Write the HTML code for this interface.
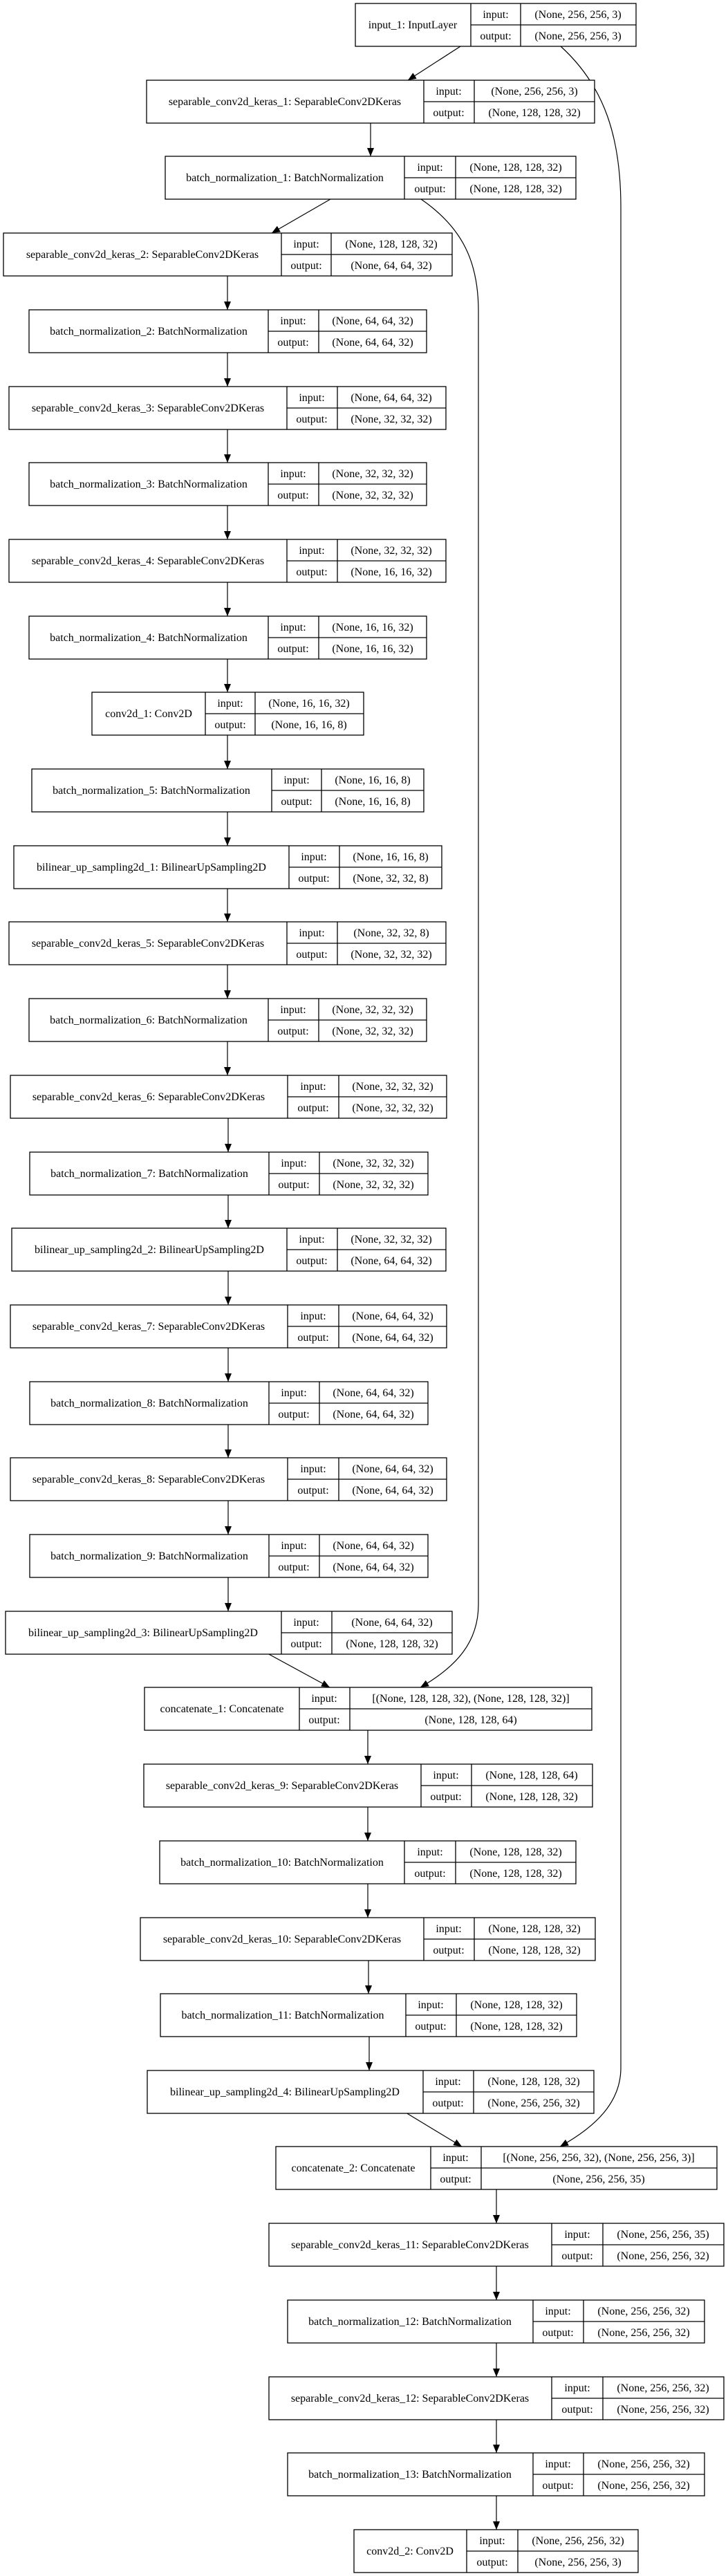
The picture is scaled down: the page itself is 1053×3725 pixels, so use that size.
<!DOCTYPE html>
<html><head><meta charset="utf-8"><style>
html,body{margin:0;padding:0;background:#fff;}
svg{display:block;}
text{font-family:"Liberation Serif",serif;font-size:16px;fill:#000;text-anchor:middle;}
.b rect{fill:#fff;stroke:#000;stroke-width:1.3;}
.b path{fill:none;stroke:#000;stroke-width:1.3;}
.e{fill:none;stroke:#000;stroke-width:1.2;}
</style></head><body>
<svg width="1053" height="3725" viewBox="0 0 1053 3725" xmlns="http://www.w3.org/2000/svg">
<defs><marker id="a" markerWidth="12" markerHeight="10" refX="12" refY="5" orient="auto" markerUnits="userSpaceOnUse"><path d="M0 0 L12 5 L0 10 z" fill="#000"/></marker></defs>
<rect width="1053" height="3725" fill="#fff"/>

<!-- edges -->
<path class="e" marker-end="url(#a)" d="M666 67 L590 116"/>
<path class="e" marker-end="url(#a)" d="M536 178 L536 226"/>
<path class="e" marker-end="url(#a)" d="M478 288 L393 337"/>
<path class="e" marker-end="url(#a)" d="M329 399 L329 448"/>
<path class="e" marker-end="url(#a)" d="M329 510 L329 559"/>
<path class="e" marker-end="url(#a)" d="M329 621 L329 669"/>
<path class="e" marker-end="url(#a)" d="M329 731 L329 780"/>
<path class="e" marker-end="url(#a)" d="M329 842 L329 891"/>
<path class="e" marker-end="url(#a)" d="M329 953 L329 1001"/>
<path class="e" marker-end="url(#a)" d="M329 1063 L329 1112"/>
<path class="e" marker-end="url(#a)" d="M329 1174 L329 1223"/>
<path class="e" marker-end="url(#a)" d="M329 1285 L329 1333"/>
<path class="e" marker-end="url(#a)" d="M329 1395 L329 1444"/>
<path class="e" marker-end="url(#a)" d="M329 1506 L329 1555"/>
<path class="e" marker-end="url(#a)" d="M330 1617 L330 1666"/>
<path class="e" marker-end="url(#a)" d="M330 1728 L330 1776"/>
<path class="e" marker-end="url(#a)" d="M330 1838 L330 1887"/>
<path class="e" marker-end="url(#a)" d="M330 1949 L330 1998"/>
<path class="e" marker-end="url(#a)" d="M330 2060 L330 2108"/>
<path class="e" marker-end="url(#a)" d="M330 2170 L330 2219"/>
<path class="e" marker-end="url(#a)" d="M330 2281 L330 2330"/>
<path class="e" marker-end="url(#a)" d="M387 2391 L477 2440"/>
<path class="e" marker-end="url(#a)" d="M532 2502 L532 2551"/>
<path class="e" marker-end="url(#a)" d="M532 2613 L532 2662"/>
<path class="e" marker-end="url(#a)" d="M532 2724 L532 2773"/>
<path class="e" marker-end="url(#a)" d="M533 2835 L533 2883"/>
<path class="e" marker-end="url(#a)" d="M534 2945 L534 2994"/>
<path class="e" marker-end="url(#a)" d="M587 3055 L668 3104"/>
<path class="e" marker-end="url(#a)" d="M718 3166 L718 3215"/>
<path class="e" marker-end="url(#a)" d="M718 3277 L718 3326"/>
<path class="e" marker-end="url(#a)" d="M718 3388 L718 3437"/>
<path class="e" marker-end="url(#a)" d="M718 3499 L718 3547"/>
<path class="e" marker-end="url(#a)" d="M718 3609 L718 3658"/>
<path class="e" marker-end="url(#a)" d="M609 288 C670 330 692 380 692 450 L692 2320 C692 2375 660 2410 608 2440"/>
<path class="e" marker-end="url(#a)" d="M811 67 C875 125 898 200 898 300 L898 2990 C898 3040 862 3075 810 3104"/>

<!-- nodes -->
<g class="b"><rect x="514" y="5" width="406" height="62"/><path d="M681 5V67M753 5V67M681 36H920"/>
<text x="597" y="41">input_1: InputLayer</text><text x="717" y="26">input:</text><text x="717" y="57">output:</text><text x="836" y="26">(None, 256, 256, 3)</text><text x="836" y="57">(None, 256, 256, 3)</text></g>

<g class="b"><rect x="212" y="116" width="648" height="62"/><path d="M613 116V178M686 116V178M613 147H860"/>
<text x="412" y="152">separable_conv2d_keras_1: SeparableConv2DKeras</text><text x="649" y="137">input:</text><text x="649" y="168">output:</text><text x="773" y="137">(None, 256, 256, 3)</text><text x="773" y="168">(None, 128, 128, 32)</text></g>

<g class="b"><rect x="239" y="226" width="594" height="62"/><path d="M585 226V288M659 226V288M585 257H833"/>
<text x="412" y="262">batch_normalization_1: BatchNormalization</text><text x="622" y="247">input:</text><text x="622" y="278">output:</text><text x="746" y="247">(None, 128, 128, 32)</text><text x="746" y="278">(None, 128, 128, 32)</text></g>

<g class="b"><rect x="5" y="337" width="649" height="62"/><path d="M407 337V399M479 337V399M407 368H654"/>
<text x="206" y="373">separable_conv2d_keras_2: SeparableConv2DKeras</text><text x="443" y="358">input:</text><text x="443" y="389">output:</text><text x="566" y="358">(None, 128, 128, 32)</text><text x="566" y="389">(None, 64, 64, 32)</text></g>

<g class="b"><rect x="42" y="448" width="575" height="62"/><path d="M388 448V510M461 448V510M388 479H617"/>
<text x="215" y="484">batch_normalization_2: BatchNormalization</text><text x="424" y="469">input:</text><text x="424" y="500">output:</text><text x="539" y="469">(None, 64, 64, 32)</text><text x="539" y="500">(None, 64, 64, 32)</text></g>

<g class="b"><rect x="13" y="559" width="632" height="62"/><path d="M415 559V621M488 559V621M415 590H645"/>
<text x="214" y="595">separable_conv2d_keras_3: SeparableConv2DKeras</text><text x="451" y="580">input:</text><text x="451" y="611">output:</text><text x="566" y="580">(None, 64, 64, 32)</text><text x="566" y="611">(None, 32, 32, 32)</text></g>

<g class="b"><rect x="42" y="669" width="575" height="62"/><path d="M388 669V731M461 669V731M388 700H617"/>
<text x="215" y="705">batch_normalization_3: BatchNormalization</text><text x="424" y="690">input:</text><text x="424" y="721">output:</text><text x="539" y="690">(None, 32, 32, 32)</text><text x="539" y="721">(None, 32, 32, 32)</text></g>

<g class="b"><rect x="13" y="780" width="632" height="62"/><path d="M415 780V842M488 780V842M415 811H645"/>
<text x="214" y="816">separable_conv2d_keras_4: SeparableConv2DKeras</text><text x="451" y="801">input:</text><text x="451" y="832">output:</text><text x="566" y="801">(None, 32, 32, 32)</text><text x="566" y="832">(None, 16, 16, 32)</text></g>

<g class="b"><rect x="42" y="891" width="575" height="62"/><path d="M388 891V953M461 891V953M388 922H617"/>
<text x="215" y="927">batch_normalization_4: BatchNormalization</text><text x="424" y="912">input:</text><text x="424" y="943">output:</text><text x="539" y="912">(None, 16, 16, 32)</text><text x="539" y="943">(None, 16, 16, 32)</text></g>

<g class="b"><rect x="133" y="1001" width="393" height="62"/><path d="M297 1001V1063M369 1001V1063M297 1032H526"/>
<text x="215" y="1037">conv2d_1: Conv2D</text><text x="333" y="1022">input:</text><text x="333" y="1053">output:</text><text x="447" y="1022">(None, 16, 16, 32)</text><text x="447" y="1053">(None, 16, 16, 8)</text></g>

<g class="b"><rect x="46" y="1112" width="567" height="62"/><path d="M393 1112V1174M465 1112V1174M393 1143H613"/>
<text x="219" y="1148">batch_normalization_5: BatchNormalization</text><text x="429" y="1133">input:</text><text x="429" y="1164">output:</text><text x="539" y="1133">(None, 16, 16, 8)</text><text x="539" y="1164">(None, 16, 16, 8)</text></g>

<g class="b"><rect x="20" y="1223" width="619" height="62"/><path d="M418 1223V1285M491 1223V1285M418 1254H639"/>
<text x="219" y="1259">bilinear_up_sampling2d_1: BilinearUpSampling2D</text><text x="454" y="1244">input:</text><text x="454" y="1275">output:</text><text x="565" y="1244">(None, 16, 16, 8)</text><text x="565" y="1275">(None, 32, 32, 8)</text></g>

<g class="b"><rect x="13" y="1333" width="632" height="62"/><path d="M415 1333V1395M488 1333V1395M415 1364H645"/>
<text x="214" y="1369">separable_conv2d_keras_5: SeparableConv2DKeras</text><text x="451" y="1354">input:</text><text x="451" y="1385">output:</text><text x="566" y="1354">(None, 32, 32, 8)</text><text x="566" y="1385">(None, 32, 32, 32)</text></g>

<g class="b"><rect x="42" y="1444" width="575" height="62"/><path d="M388 1444V1506M461 1444V1506M388 1475H617"/>
<text x="215" y="1480">batch_normalization_6: BatchNormalization</text><text x="424" y="1465">input:</text><text x="424" y="1496">output:</text><text x="539" y="1465">(None, 32, 32, 32)</text><text x="539" y="1496">(None, 32, 32, 32)</text></g>

<g class="b"><rect x="15" y="1555" width="631" height="62"/><path d="M416 1555V1617M490 1555V1617M416 1586H646"/>
<text x="215" y="1591">separable_conv2d_keras_6: SeparableConv2DKeras</text><text x="453" y="1576">input:</text><text x="453" y="1607">output:</text><text x="568" y="1576">(None, 32, 32, 32)</text><text x="568" y="1607">(None, 32, 32, 32)</text></g>

<g class="b"><rect x="43" y="1666" width="576" height="62"/><path d="M389 1666V1728M462 1666V1728M389 1697H619"/>
<text x="216" y="1702">batch_normalization_7: BatchNormalization</text><text x="425" y="1687">input:</text><text x="425" y="1718">output:</text><text x="540" y="1687">(None, 32, 32, 32)</text><text x="540" y="1718">(None, 32, 32, 32)</text></g>

<g class="b"><rect x="17" y="1776" width="628" height="62"/><path d="M415 1776V1838M488 1776V1838M415 1807H645"/>
<text x="216" y="1812">bilinear_up_sampling2d_2: BilinearUpSampling2D</text><text x="451" y="1797">input:</text><text x="451" y="1828">output:</text><text x="566" y="1797">(None, 32, 32, 32)</text><text x="566" y="1828">(None, 64, 64, 32)</text></g>

<g class="b"><rect x="15" y="1887" width="631" height="62"/><path d="M416 1887V1949M490 1887V1949M416 1918H646"/>
<text x="215" y="1923">separable_conv2d_keras_7: SeparableConv2DKeras</text><text x="453" y="1908">input:</text><text x="453" y="1939">output:</text><text x="568" y="1908">(None, 64, 64, 32)</text><text x="568" y="1939">(None, 64, 64, 32)</text></g>

<g class="b"><rect x="43" y="1998" width="576" height="62"/><path d="M389 1998V2060M462 1998V2060M389 2029H619"/>
<text x="216" y="2034">batch_normalization_8: BatchNormalization</text><text x="425" y="2019">input:</text><text x="425" y="2050">output:</text><text x="540" y="2019">(None, 64, 64, 32)</text><text x="540" y="2050">(None, 64, 64, 32)</text></g>

<g class="b"><rect x="15" y="2108" width="631" height="62"/><path d="M416 2108V2170M490 2108V2170M416 2139H646"/>
<text x="215" y="2144">separable_conv2d_keras_8: SeparableConv2DKeras</text><text x="453" y="2129">input:</text><text x="453" y="2160">output:</text><text x="568" y="2129">(None, 64, 64, 32)</text><text x="568" y="2160">(None, 64, 64, 32)</text></g>

<g class="b"><rect x="43" y="2219" width="576" height="62"/><path d="M389 2219V2281M462 2219V2281M389 2250H619"/>
<text x="216" y="2255">batch_normalization_9: BatchNormalization</text><text x="425" y="2240">input:</text><text x="425" y="2271">output:</text><text x="540" y="2240">(None, 64, 64, 32)</text><text x="540" y="2271">(None, 64, 64, 32)</text></g>

<g class="b"><rect x="8" y="2330" width="646" height="62"/><path d="M407 2330V2392M480 2330V2392M407 2361H654"/>
<text x="207" y="2366">bilinear_up_sampling2d_3: BilinearUpSampling2D</text><text x="443" y="2351">input:</text><text x="443" y="2382">output:</text><text x="567" y="2351">(None, 64, 64, 32)</text><text x="567" y="2382">(None, 128, 128, 32)</text></g>

<g class="b"><rect x="209" y="2440" width="647" height="62"/><path d="M433 2440V2502M506 2440V2502M433 2471H856"/>
<text x="321" y="2476">concatenate_1: Concatenate</text><text x="469" y="2461">input:</text><text x="469" y="2492">output:</text><text x="681" y="2461">[(None, 128, 128, 32), (None, 128, 128, 32)]</text><text x="681" y="2492">(None, 128, 128, 64)</text></g>

<g class="b"><rect x="208" y="2551" width="649" height="62"/><path d="M609 2551V2613M682 2551V2613M609 2582H857"/>
<text x="408" y="2587">separable_conv2d_keras_9: SeparableConv2DKeras</text><text x="645" y="2572">input:</text><text x="645" y="2603">output:</text><text x="769" y="2572">(None, 128, 128, 64)</text><text x="769" y="2603">(None, 128, 128, 32)</text></g>

<g class="b"><rect x="231" y="2662" width="602" height="62"/><path d="M585 2662V2724M659 2662V2724M585 2693H833"/>
<text x="408" y="2698">batch_normalization_10: BatchNormalization</text><text x="622" y="2683">input:</text><text x="622" y="2714">output:</text><text x="746" y="2683">(None, 128, 128, 32)</text><text x="746" y="2714">(None, 128, 128, 32)</text></g>

<g class="b"><rect x="203" y="2773" width="658" height="62"/><path d="M613 2773V2835M686 2773V2835M613 2804H861"/>
<text x="408" y="2809">separable_conv2d_keras_10: SeparableConv2DKeras</text><text x="649" y="2794">input:</text><text x="649" y="2825">output:</text><text x="773" y="2794">(None, 128, 128, 32)</text><text x="773" y="2825">(None, 128, 128, 32)</text></g>

<g class="b"><rect x="232" y="2883" width="602" height="62"/><path d="M587 2883V2945M660 2883V2945M587 2914H834"/>
<text x="409" y="2919">batch_normalization_11: BatchNormalization</text><text x="623" y="2904">input:</text><text x="623" y="2935">output:</text><text x="747" y="2904">(None, 128, 128, 32)</text><text x="747" y="2935">(None, 128, 128, 32)</text></g>

<g class="b"><rect x="213" y="2994" width="646" height="62"/><path d="M612 2994V3056M685 2994V3056M612 3025H859"/>
<text x="412" y="3030">bilinear_up_sampling2d_4: BilinearUpSampling2D</text><text x="648" y="3015">input:</text><text x="648" y="3046">output:</text><text x="772" y="3015">(None, 128, 128, 32)</text><text x="772" y="3046">(None, 256, 256, 32)</text></g>

<g class="b"><rect x="399" y="3104" width="638" height="62"/><path d="M623 3104V3166M696 3104V3166M623 3135H1037"/>
<text x="511" y="3140">concatenate_2: Concatenate</text><text x="659" y="3125">input:</text><text x="659" y="3156">output:</text><text x="866" y="3125">[(None, 256, 256, 32), (None, 256, 256, 3)]</text><text x="866" y="3156">(None, 256, 256, 35)</text></g>

<g class="b"><rect x="389" y="3215" width="658" height="62"/><path d="M798 3215V3277M872 3215V3277M798 3246H1047"/>
<text x="593" y="3251">separable_conv2d_keras_11: SeparableConv2DKeras</text><text x="835" y="3236">input:</text><text x="835" y="3267">output:</text><text x="959" y="3236">(None, 256, 256, 35)</text><text x="959" y="3267">(None, 256, 256, 32)</text></g>

<g class="b"><rect x="416" y="3326" width="603" height="62"/><path d="M771 3326V3388M844 3326V3388M771 3357H1019"/>
<text x="593" y="3362">batch_normalization_12: BatchNormalization</text><text x="807" y="3347">input:</text><text x="807" y="3378">output:</text><text x="931" y="3347">(None, 256, 256, 32)</text><text x="931" y="3378">(None, 256, 256, 32)</text></g>

<g class="b"><rect x="389" y="3437" width="658" height="62"/><path d="M798 3437V3499M872 3437V3499M798 3468H1047"/>
<text x="593" y="3473">separable_conv2d_keras_12: SeparableConv2DKeras</text><text x="835" y="3458">input:</text><text x="835" y="3489">output:</text><text x="959" y="3458">(None, 256, 256, 32)</text><text x="959" y="3489">(None, 256, 256, 32)</text></g>

<g class="b"><rect x="416" y="3547" width="603" height="62"/><path d="M771 3547V3609M844 3547V3609M771 3578H1019"/>
<text x="593" y="3583">batch_normalization_13: BatchNormalization</text><text x="807" y="3568">input:</text><text x="807" y="3599">output:</text><text x="931" y="3568">(None, 256, 256, 32)</text><text x="931" y="3599">(None, 256, 256, 32)</text></g>

<g class="b"><rect x="512" y="3658" width="411" height="62"/><path d="M675 3658V3720M749 3658V3720M675 3689H923"/>
<text x="593" y="3694">conv2d_2: Conv2D</text><text x="712" y="3679">input:</text><text x="712" y="3710">output:</text><text x="836" y="3679">(None, 256, 256, 32)</text><text x="836" y="3710">(None, 256, 256, 3)</text></g>
</svg>
</body></html>
